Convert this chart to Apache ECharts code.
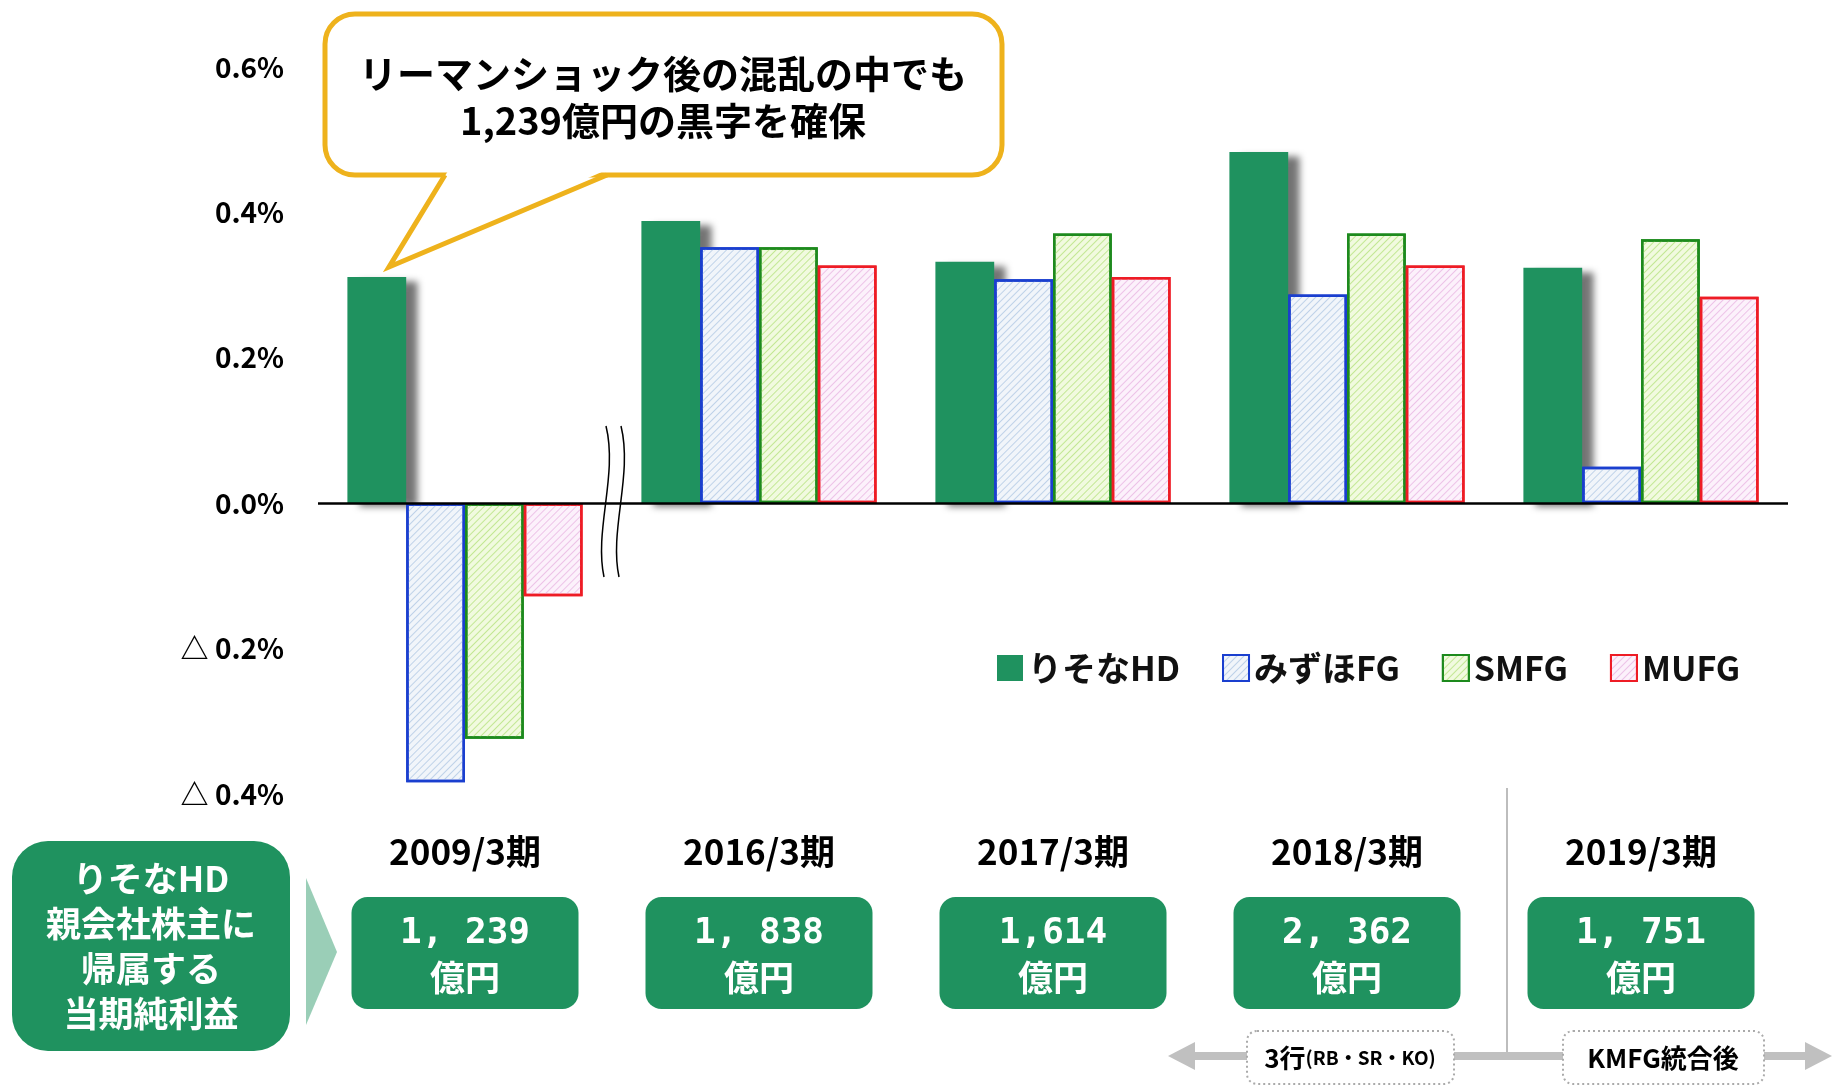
<!DOCTYPE html>
<html>
<head>
<meta charset="utf-8">
<script src="https://cdn.jsdelivr.net/npm/echarts@6/dist/echarts.min.js"></script>
<style>
  html, body { margin: 0; padding: 0; background: #fff; }
  #chart { width: 1832px; height: 1087px; }
</style>
</head>
<body>
<div id="chart"></div>
<script>
// ROA comparison (%), 2009/3期 and 2016-2019/3期
const categories = ['2009/3期', '2016/3期', '2017/3期', '2018/3期', '2019/3期']
const seriesNames = ['りそなHD', 'みずほFG', 'SMFG', 'MUFG']
const resonaHD = [0.311, 0.388, 0.332, 0.483, 0.324]
const mizuhoFG = [-0.384, 0.352, 0.308, 0.287, 0.050]
const smfg = [-0.324, 0.352, 0.371, 0.371, 0.363]
const mufg = [-0.128, 0.327, 0.311, 0.327, 0.284]
// りそなHD 親会社株主に帰属する当期純利益 (億円)
const netIncomeLabels = ['1, 239', '1, 838', '1,614', '2, 362', '1, 751']
const calloutLines = ['リーマンショック後の混乱の中でも', '1,239億円の黒字を確保']
const sideBoxLines = ['りそなHD', '親会社株主に', '帰属する', '当期純利益']

const JP = '"Noto Sans CJK JP", "Noto Sans", sans-serif'
const GREEN = '#1f925f'
const GOLD = '#eeb21c'

function hatch(color) {
  return {
    symbol: 'rect',
    symbolSize: 1,
    dashArrayX: [1, 0],
    dashArrayY: [1, 4],
    rotation: -Math.PI / 4,
    color: color,
  }
}

function outlinedBar(name, data, border, fill, stripe) {
  return {
    name: name,
    type: 'bar',
    data: data,
    barGap: '0%',
    barCategoryGap: '20%',
    itemStyle: {
      color: fill,
      borderColor: border,
      borderWidth: 2.5,
      decal: hatch(stripe),
    },
  }
}

const chart = echarts.init(document.getElementById('chart'))

chart.setOption({
  animation: false,
  aria: { enabled: true, decal: { show: true } },
  textStyle: { fontFamily: JP },
  grid: { left: 318, right: 44, top: 67, bottom: 293 },
  legend: {
    left: 992,
    top: 646,
    icon: 'rect',
    itemWidth: 26,
    itemHeight: 26,
    itemGap: 42,
    textStyle: { fontSize: 34, fontWeight: 'bold', color: '#111', fontFamily: JP },
    data: seriesNames,
  },
  xAxis: [
    {
      type: 'category',
      data: categories,
      axisLine: { show: false },
      axisTick: { show: false },
      axisLabel: {
        interval: 0,
        margin: 40,
        fontSize: 35,
        fontWeight: 'bold',
        color: '#000',
        fontFamily: JP,
      },
    },
    {
      type: 'category',
      data: categories,
      position: 'bottom',
      axisLine: { show: false },
      axisTick: { show: false },
      axisLabel: {
        interval: 0,
        margin: 103,
        width: 227,
        align: 'center',
        backgroundColor: GREEN,
        borderRadius: 16,
        padding: [15, 0, 9, 0],
        formatter: function (v, i) {
          return '{n|' + netIncomeLabels[i] + '}\n{u|億円}'
        },
        rich: {
          n: { fontSize: 36, fontWeight: 'bold', fontFamily: '"DejaVu Sans Mono", monospace', color: '#fff', lineHeight: 44, align: 'center' },
          u: { fontSize: 35, fontWeight: 'bold', fontFamily: JP, color: '#fff', lineHeight: 44, align: 'center' },
        },
      },
    },
  ],
  yAxis: {
    type: 'value',
    min: -0.4,
    max: 0.6,
    interval: 0.2,
    axisLine: { show: false },
    axisTick: { show: false },
    splitLine: { show: false },
    axisLabel: {
      margin: 34,
      fontSize: 28,
      fontWeight: 'bold',
      color: '#000',
      fontFamily: JP,
      formatter: function (v) {
        return v < -1e-9 ? '△ ' + (-v).toFixed(1) + '%' : Math.abs(v).toFixed(1) + '%'
      },
    },
  },
  series: [
    {
      name: seriesNames[0],
      type: 'bar',
      data: resonaHD,
      barGap: '0%',
      barCategoryGap: '20%',
      itemStyle: {
        color: GREEN,
        decal: { symbol: 'none' },
        shadowColor: 'rgba(0,0,0,0.55)',
        shadowBlur: 7,
        shadowOffsetX: 12,
        shadowOffsetY: 4,
      },
    },
    outlinedBar(seriesNames[1], mizuhoFG, '#1a3fcf', '#f1f5fa', 'rgba(170,195,225,0.7)'),
    outlinedBar(seriesNames[2], smfg, '#1d8a1d', '#f1fadf', 'rgba(190,230,140,0.9)'),
    Object.assign(outlinedBar(seriesNames[3], mufg, '#ee1c25', '#fcf1fb', 'rgba(235,190,230,0.9)'), {
      markLine: {
        silent: true,
        symbol: 'none',
        label: { show: false },
        lineStyle: { color: '#000', width: 2.5, type: 'solid' },
        data: [{ yAxis: 0 }],
      },
    }),
  ],
  graphic: [
    // callout balloon
    {
      type: 'rect',
      shape: { x: 325, y: 14, width: 677, height: 161, r: 30 },
      style: { fill: '#fff', stroke: GOLD, lineWidth: 5 },
      z: 10,
    },
    {
      type: 'polygon',
      shape: { points: [[448, 171], [604, 171], [389, 265]] },
      style: { fill: '#fff' },
      z: 11,
    },
    {
      type: 'polyline',
      shape: { points: [[445, 175], [389, 267], [607, 175]] },
      style: { stroke: GOLD, lineWidth: 5, fill: null, lineJoin: 'miter' },
      z: 11,
    },
    {
      type: 'text',
      style: { text: calloutLines[0], x: 663, y: 74, textAlign: 'center', textVerticalAlign: 'middle', font: 'bold 38px ' + JP, fill: '#000' },
      z: 12,
    },
    {
      type: 'text',
      style: { text: calloutLines[1], x: 663, y: 121, textAlign: 'center', textVerticalAlign: 'middle', font: 'bold 38px ' + JP, fill: '#000' },
      z: 12,
    },
    // axis break
    {
      type: 'bezierCurve',
      shape: { x1: 606, y1: 426, cpx1: 618, cpy1: 475, cpx2: 594, cpy2: 530, x2: 604, y2: 577 },
      style: { stroke: '#000', lineWidth: 1.5, fill: null },
      z: 10,
    },
    {
      type: 'bezierCurve',
      shape: { x1: 621, y1: 426, cpx1: 633, cpy1: 475, cpx2: 609, cpy2: 530, x2: 619, y2: 577 },
      style: { stroke: '#000', lineWidth: 1.5, fill: null },
      z: 10,
    },
    // left label box
    {
      type: 'rect',
      shape: { x: 12, y: 841, width: 278, height: 210, r: 36 },
      style: { fill: GREEN },
    },
    {
      type: 'text',
      style: {
        text: sideBoxLines.join('\n'),
        x: 151, y: 946,
        textAlign: 'center', textVerticalAlign: 'middle',
        font: 'bold 35px ' + JP, lineHeight: 45, fill: '#fff',
      },
    },
    {
      type: 'polygon',
      shape: { points: [[306, 878], [337, 952], [306, 1025]] },
      style: { fill: 'rgba(31,146,96,0.45)' },
    },
    // period separator and arrows
    {
      type: 'line',
      shape: { x1: 1507, y1: 788, x2: 1507, y2: 1057 },
      style: { stroke: '#bdbdbd', lineWidth: 2 },
    },
    {
      type: 'line',
      shape: { x1: 1192, y1: 1056, x2: 1808, y2: 1056 },
      style: { stroke: '#c0c0c0', lineWidth: 8 },
    },
    {
      type: 'polygon',
      shape: { points: [[1168, 1056], [1195, 1042], [1195, 1070]] },
      style: { fill: '#c0c0c0' },
    },
    {
      type: 'polygon',
      shape: { points: [[1832, 1056], [1805, 1042], [1805, 1070]] },
      style: { fill: '#c0c0c0' },
    },
    {
      type: 'rect',
      shape: { x: 1247, y: 1031, width: 207, height: 53, r: 10 },
      style: { fill: '#fff', stroke: '#aaa', lineWidth: 2, lineDash: [2, 3] },
    },
    {
      type: 'text',
      style: {
        text: '{a|3行}{b|(RB・SR・KO)}',
        x: 1350, y: 1058,
        textAlign: 'center', textVerticalAlign: 'middle',
        rich: {
          a: { fontSize: 26, fontWeight: 'bold', fontFamily: JP, fill: '#000' },
          b: { fontSize: 19, fontWeight: 'bold', fontFamily: JP, fill: '#000' },
        },
      },
    },
    {
      type: 'rect',
      shape: { x: 1563, y: 1031, width: 201, height: 53, r: 10 },
      style: { fill: '#fff', stroke: '#aaa', lineWidth: 2, lineDash: [2, 3] },
    },
    {
      type: 'text',
      style: {
        text: 'KMFG統合後',
        x: 1663, y: 1058,
        textAlign: 'center', textVerticalAlign: 'middle',
        font: 'bold 26px ' + JP, fill: '#000',
      },
    },
  ],
})
</script>
</body>
</html>
